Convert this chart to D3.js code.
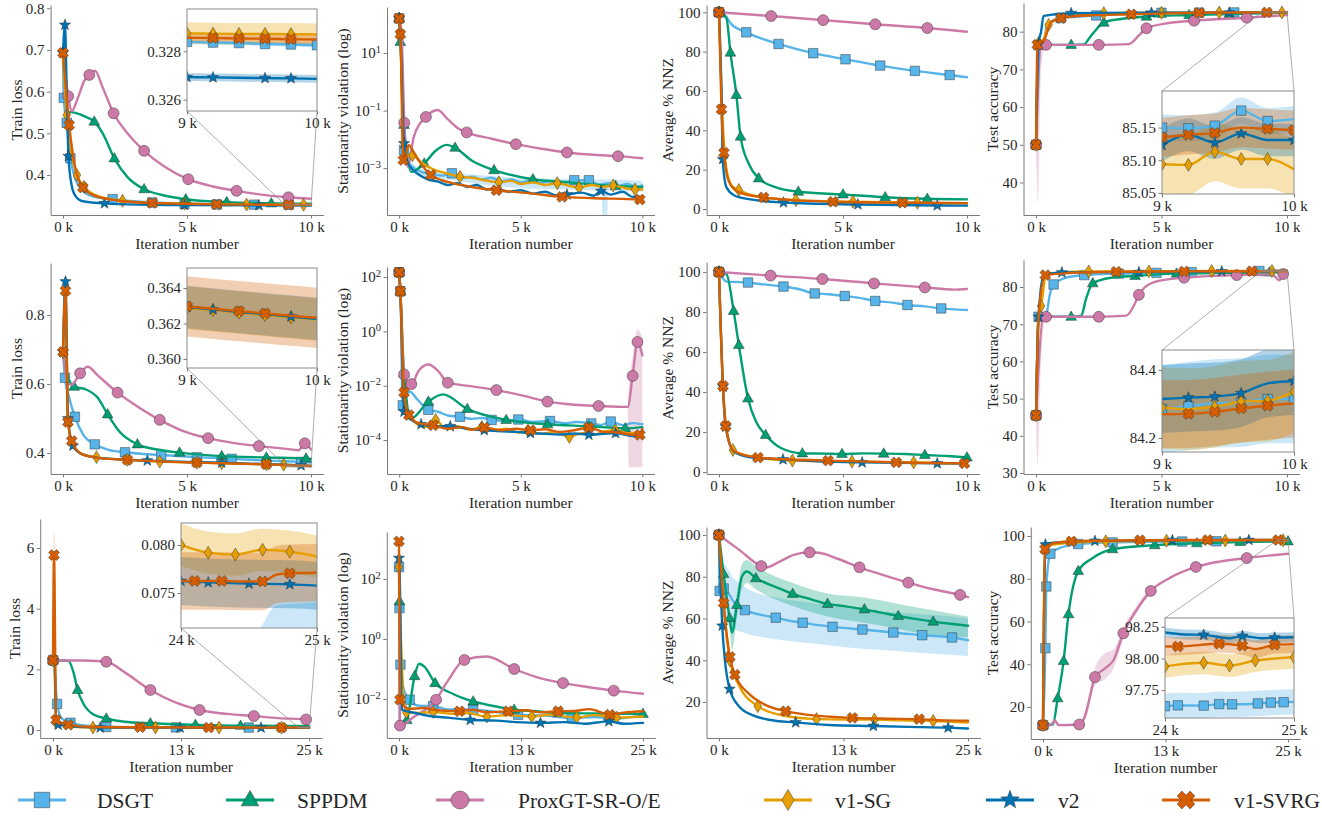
<!DOCTYPE html>
<html><head><meta charset="utf-8">
<script src="https://cdn.jsdelivr.net/npm/d3@7"></script>
<style>
body{margin:0;background:#fff}
svg{display:block}
</style>
</head><body>
<svg id="chart" width="1322" height="822"></svg>
<script>
// ---------------- DATA ----------------
const methods = ["DSGT","SPPDM","ProxGT-SR-O/E","v1-SG","v2","v1-SVRG"];
const colors  = ["#56B4E9","#009E73","#CC79A7","#E69F00","#0072B2","#D55E00"];
const shapes  = ["square","triangle","circle","diamond","star","x"];

const xTicks10 = [0,5,10],    xTickLabels10 = ["0 k","5 k","10 k"];
const xTicks25 = [0,12.5,25], xTickLabels25 = ["0 k","13 k","25 k"];
const yTitles = ["Train loss","Stationarity violation (log)","Average % NNZ","Test accuracy"];
const xTitle = "Iteration number";

const yTicksLossA = [0.4,0.5,0.6,0.7,0.8];
const yTicksStatA = [1e-3,1e-1,1e1];
const yTicksNnz   = [0,20,40,60,80,100];
const yTicksAccA  = [40,50,60,70,80];
const yTicksLossB = [0.4,0.6,0.8];
const yTicksStatB = [1e-4,1e-2,1,1e2];
const yTicksAccB  = [30,40,50,60,70,80];
const yTicksLossC = [0,2,4,6];
const yTicksStatC = [1e-2,1,1e2];
const yTicksNnzC  = [20,40,60,80,100];
const yTicksAccC  = [20,40,60,80,100];

// points: [iteration (k), value, marker?]
// order in each panel: DSGT, SPPDM, ProxGT-SR-O/E, v1-SG, v2, v1-SVRG
const lossA = [
 [[0,0.693],[0.03,0.585,1],[0.15,0.525,1],[0.3,0.44,1],[0.5,0.39],[0.8,0.362],[1.2,0.349],[2.0,0.342,1],[3.6,0.334,1],[4.9,0.331,1],[6.2,0.3295,1],[7.7,0.329,1],[9.1,0.3287,1],[10,0.3283]],
 [[0,0.693],[0.1,0.6],[0.2,0.552],[0.5,0.549],[0.9,0.54],[1.26,0.528,1],[1.6,0.5],[2.07,0.44,1],[2.6,0.395],[3.27,0.366,1],[4.0,0.352],[4.95,0.342,1],[6.6,0.335,1],[8.4,0.332,1],[10,0.331]],
 [[0,0.693],[0.21,0.589,1],[0.35,0.553],[0.6,0.585],[0.85,0.625],[1.06,0.64,1],[1.29,0.65],[1.6,0.61],[2.04,0.548,1],[2.6,0.5],[3.27,0.458,1],[4.1,0.42],[5.05,0.39,1],[6.0,0.373],[7.0,0.362,1],[8.0,0.353],[9.09,0.3465,1],[10,0.343]],
 [[0,0.693,1],[0.15,0.544,1],[0.35,0.45],[0.56,0.40,1],[0.84,0.372,1],[1.3,0.352],[2.4,0.338,1],[3.6,0.333],[4.9,0.331,1],[6.2,0.3295],[7.4,0.329,1],[9.7,0.3287,1],[10,0.3287]],
 [[0,0.693,1],[0.08,0.76,1],[0.15,0.6],[0.22,0.445,1],[0.35,0.375],[0.5,0.35],[0.8,0.337],[1.67,0.332,1],[3.0,0.329],[4.9,0.328,1],[7.9,0.3272,1],[10,0.3269]],
 [[0,0.693,1],[0.25,0.52,1],[0.45,0.43],[0.8,0.37,1],[1.3,0.35],[2.2,0.339],[3.6,0.333,1],[4.9,0.331],[6.2,0.3295,1],[7.6,0.329],[9.1,0.3285,1],[10,0.3284]]
];
const statA = [
 [[0,160,1],[0.05,45],[0.2,4.3e-3,1],[0.4,1.5e-3],[0.7,9e-4],[1.0,7e-4],[1.4,6e-4],[1.8,5.5e-4],[2.17,6.6e-4,1],[2.6,4.5e-4],[3.0,5e-4],[3.4,4e-4],[3.8,4.6e-4],[4.2,3.5e-4],[4.6,4e-4],[5.0,3.2e-4],[5.4,3.8e-4],[5.8,3e-4],[6.2,3.5e-4],[6.6,2.8e-4],[7.2,3.8e-4,1],[7.8,3.8e-4,1],[8.2,2.6e-4],[8.6,3e-4],[9.0,2.4e-4],[9.4,2.8e-4],[9.8,2.2e-4],[10,2.5e-4]],
 [[0,160,1],[0.05,24.5,1],[0.2,0.032,1],[0.5,7.4e-4],[1.03,1.45e-3,1],[1.5,4e-3],[1.95,6.4e-3],[2.3,5.1e-3,1],[3.0,1.8e-3],[3.9,8.5e-4,1],[5.5,4.1e-4,1],[7.0,3.2e-4],[8.9,2.4e-4,1],[10,2.2e-4]],
 [[0,160],[0.1,45],[0.21,0.038,1],[0.35,1.1e-3],[0.6,0.012],[1.1,0.06,1],[1.58,0.105],[2.0,0.05],[2.4,0.025],[2.78,0.0174,1],[3.8,0.0105],[4.8,6.8e-3,1],[5.8,4.8e-3],[6.9,3.5e-3,1],[8.0,2.9e-3],[9.0,2.6e-3,1],[10,2.2e-3]],
 [[0,160,1],[0.05,45,1],[0.2,2e-3],[0.35,2.8e-3],[0.55,2.8e-3,1],[0.9,1.6e-3],[1.4,9e-4],[2.0,6.5e-4],[2.5,5e-4,1],[3.0,4.6e-4],[3.5,3.8e-4],[4.1,3.2e-4,1],[4.6,3.6e-4],[5.0,2.8e-4],[5.5,3.2e-4],[6.0,2.6e-4],[6.5,3e-4,1],[7.0,2.4e-4],[7.4,2.1e-4,1],[7.9,2.6e-4],[8.4,2.2e-4],[8.8,2.5e-4,1],[9.3,2e-4],[9.7,1.8e-4,1],[10,1.8e-4]],
 [[0,160,1],[0.05,45],[0.2,7.2e-3,1],[0.35,1.6e-3],[0.5,1e-3],[0.8,6e-4],[1.2,4e-4],[1.6,3.4e-4],[2.0,2.6e-4],[2.4,3e-4],[2.8,2.2e-4],[3.2,2.6e-4],[3.6,1.8e-4],[4.0,2e-4],[4.5,1.5e-4],[5.0,1.7e-4],[5.5,1.3e-4],[6.0,1.5e-4],[6.5,1.1e-4],[6.9,1.2e-4,1],[7.5,1.4e-4],[8.0,1.1e-4],[8.3,1.6e-4,1],[8.7,1.2e-4],[9.2,1.5e-4],[9.6,1e-4],[10,1e-4]],
 [[0,160,1],[0.05,45,1],[0.17,1.9e-3,1],[0.28,3.5e-3],[0.4,6.3e-3],[0.6,3.5e-3],[0.9,1.4e-3],[1.3,5.8e-4,1],[2.0,3.3e-4],[3.0,2.2e-4],[4.0,1.7e-4,1],[5.5,1.3e-4],[6.7,1e-4,1],[8.0,9e-5],[9.9,8.1e-5,1],[10,8e-5]]
];
const nnzA = [
 [[0,100,1],[0.2,99],[0.5,94],[1.1,89.8,1],[2.4,83.9,1],[3.8,79.2,1],[5.1,76.1,1],[6.5,72.9,1],[7.9,70.2,1],[9.3,68.1,1],[10,67]],
 [[0,100,1],[0.3,97],[0.46,79.5,1],[0.7,58,1],[0.87,36.8,1],[1.2,23],[1.6,15.6,1],[2.3,11],[3.2,8.8,1],[5.0,7.4,1],[6.7,6.0,1],[8.4,5.2,1],[10,4.9]],
 [[0,100,1],[2.1,98.1,1],[4.2,96,1],[6.3,93.9,1],[8.4,92,1],[10,90.1]],
 [[0,100,1],[0.1,60],[0.25,25],[0.5,12],[0.8,9.6,1],[1.5,6.5],[3.1,4.5,1],[5.4,3.7,1],[8.0,3.2,1],[10,2.9]],
 [[0,100,1],[0.1,60],[0.15,25.3,1],[0.3,11],[0.6,7],[1.2,5],[2.6,3.3,1],[5.6,2.3,1],[8.8,1.8,1],[10,1.7]],
 [[0,100,1],[0.1,50.7,1],[0.2,28.6,1],[0.4,14],[0.8,8.5],[1.8,5.9,1],[3,4.5],[4.6,3.7,1],[7.4,3.2,1],[10,3.0]]
];
const accA = [
 [[0,50,1],[0.1,76.5,1],[0.3,77],[0.45,82],[0.98,83.6,1],[2.4,84.3,1],[5.0,85,1],[6.5,85.05,1],[7.9,85.1,1],[10,85.15]],
 [[0,50,1],[0.1,76.5],[1.4,76.5,1],[1.9,76.6],[2.2,79],[2.7,82.4,1],[3.3,83.3],[4.4,84.0,1],[6.1,84.4,1],[7.7,84.7,1],[10,85]],
 [[0,50,1],[0.2,76.3],[0.4,76.5,1],[2.5,76.5,1],[3.7,76.7],[4.1,79],[4.4,80.9,1],[5.2,82.2],[6.3,82.9,1],[8.4,83.7,1],[10,84.4]],
 [[0,50,1],[0.1,77,1],[0.3,78],[0.5,81.8,1],[1.2,84.2],[2.7,84.9,1],[5.0,85,1],[7.3,85.1,1],[9.8,85.1,1],[10,85.09]],
 [[0,50,1],[0.1,76.7,1],[0.2,80],[0.3,84.2],[1.4,84.9,1],[4.6,85,1],[7.7,85.05,1],[10,85.13]],
 [[0,50,1],[0.05,76.5,1],[0.3,77.5],[0.6,82.5],[1.0,83.6,1],[2.0,84.3],[3.8,84.6,1],[6.5,85,1],[9.2,85.12,1],[10,85.14]]
];
const lossB = [
 [[0,0.693],[0.08,0.618,1],[0.25,0.56],[0.48,0.505,1],[0.8,0.455],[1.28,0.425,1],[1.8,0.41],[2.5,0.402,1],[3.96,0.394,1],[5.4,0.388,1],[6.8,0.383,1],[8.2,0.378],[9.6,0.374,1],[10,0.372]],
 [[0,0.693],[0.2,0.62],[0.45,0.592,1],[0.9,0.585],[1.4,0.56],[1.8,0.512,1],[2.3,0.46],[3.0,0.425,1],[3.8,0.41],[4.7,0.401,1],[6.4,0.391,1],[8.2,0.387,1],[9.8,0.384,1],[10,0.383]],
 [[0,0.693],[0.2,0.6],[0.35,0.598],[0.69,0.631,1],[1.0,0.65],[1.4,0.625],[2.2,0.575,1],[3.0,0.535],[3.9,0.496,1],[4.8,0.465],[5.85,0.443,1],[6.8,0.43],[7.9,0.42,1],[9.0,0.412],[9.5,0.408],[9.75,0.428,1],[10,0.41]],
 [[0,0.693,1],[0.1,0.86],[0.2,0.5],[0.4,0.42],[0.7,0.4],[1.35,0.388,1],[2.6,0.38,1],[3.9,0.375,1],[5.4,0.372,1],[6.4,0.37,1],[8.2,0.367,1],[8.9,0.366,1],[10,0.3623]],
 [[0,0.693,1],[0.1,0.897,1],[0.2,0.5,1],[0.4,0.421,1],[0.8,0.395],[1.5,0.385],[3.4,0.378,1],[5,0.374],[6.4,0.372,1],[8,0.368],[9.6,0.364,1],[10,0.3623]],
 [[0,0.693,1],[0.1,0.87,1],[0.2,0.49,1],[0.35,0.435,1],[0.8,0.395],[1.5,0.385],[2.6,0.38,1],[5.4,0.372,1],[8.2,0.367,1],[10,0.3624]]
];
const statB = [
 [[0,150,1],[0.05,30,1],[0.15,1.9e-3,1],[0.3,5e-3],[0.45,6e-3],[0.7,3.5e-3],[1.0,1.8e-3],[1.2,1.3e-3,1],[1.6,1.1e-3],[2.0,8e-4],[2.5,7.2e-4,1],[3.0,6e-4],[3.4,6.5e-4],[3.8,5.5e-4,1],[4.3,5e-4],[4.9,5.7e-4,1],[5.5,4.6e-4],[6.2,5e-4,1],[6.8,4.2e-4],[7.3,4.6e-4],[7.9,4.1e-4,1],[8.3,3.6e-4],[8.7,4.8e-4,1],[9.2,3.5e-4],[9.6,4.2e-4],[10,3.8e-4]],
 [[0,150,1],[0.05,30,1],[0.2,0.028,1],[0.5,6.3e-4],[1.2,2.6e-3,1],[1.8,4.8e-3],[2.8,1.4e-3,1],[4.4,5.5e-4,1],[6.1,3.8e-4,1],[7.8,3.2e-4,1],[9.3,2.7e-4,1],[10,3.0e-4]],
 [[0,150,1],[0.05,30],[0.2,0.026,1],[0.5,0.0115,1],[0.8,0.035],[1.2,0.06],[1.6,0.035],[2.0,0.0129,1],[3.0,9.5e-3],[4.0,6.9e-3,1],[5.0,4.5e-3],[6.1,2.6e-3,1],[7.2,2e-3],[8.2,1.8e-3,1],[9.4,1.66e-3],[9.6,0.023,1],[9.8,0.41,1],[10,0.13]],
 [[0,150,1],[0.05,30,1],[0.2,1.5e-3],[0.45,7.2e-4],[0.8,3.5e-4],[1.1,3e-4],[1.5,5.5e-4,1],[1.9,2.8e-4],[2.4,3.2e-4],[2.9,2.4e-4],[3.4,3e-4,1],[3.9,2.3e-4],[4.4,2.6e-4],[4.9,1.9e-4],[5.3,2.2e-4,1],[5.8,1.7e-4],[6.4,2e-4],[7.0,1.3e-4,1],[7.5,1.8e-4],[8.0,1.6e-4],[8.5,2.1e-4],[8.9,2.3e-4,1],[9.4,1.8e-4],[10,2e-4]],
 [[0,150,1],[0.05,30],[0.2,1.1e-3,1],[0.5,5.5e-4],[0.9,3.8e-4,1],[1.5,3.2e-4],[2.1,3.2e-4,1],[2.8,2.6e-4],[3.5,2.3e-4,1],[4.2,2.1e-4],[4.8,2e-4],[5.4,1.8e-4,1],[6.0,1.7e-4],[6.6,1.6e-4],[7.2,1.75e-4],[7.8,1.55e-4,1],[8.4,1.7e-4],[8.9,1.8e-4,1],[9.4,1.5e-4],[10,1.3e-4]],
 [[0,150,1],[0.05,30,1],[0.2,5.6e-3,1],[0.4,8.3e-4,1],[0.8,4.2e-4],[1.4,3.5e-4,1],[2.0,2.6e-4],[2.6,3e-4],[3.0,2.4e-4],[3.5,2.9e-4,1],[4.2,2.3e-4],[4.8,2.6e-4],[5.4,2.3e-4,1],[6.0,2.5e-4],[6.6,2e-4],[7.2,2.3e-4],[7.8,2.9e-4,1],[8.4,2e-4],[9.0,1.9e-4],[9.5,1.6e-4],[9.9,1.55e-4,1],[10,2.6e-4]]
];
const nnzB = [
 [[0,100,1],[0.3,95.2],[0.7,95],[1.17,94.7,1],[1.8,93.8],[2.6,92.7,1],[3.2,91.5],[3.86,89.3,1],[4.4,88.9],[5.07,88,1],[5.6,87.2],[6.3,85.5,1],[7.0,84.7],[7.6,83.5,1],[8.3,82.8],[8.96,81.8,1],[9.5,81.3],[10,81]],
 [[0,100,1],[0.3,99],[0.59,80.5,1],[0.8,63.5,1],[1.17,36.8,1],[1.5,25],[1.88,18.5,1],[2.5,12],[3.36,9.3,1],[4.2,9.2],[4.96,9.0,1],[5.8,9.3],[6.64,9.2,1],[7.5,9],[8.3,8.5,1],[9.2,8],[10,7.3,1]],
 [[0,100,1],[2.08,98.2,1],[4.17,96.5,1],[6.25,94.3,1],[8.3,92.3,1],[9.5,91.2],[10,91.5]],
 [[0,100,1],[0.16,42.7],[0.3,22],[0.56,11,1],[1.2,8],[2.96,5.7,1],[5.36,5.2,1],[7.85,4.8,1],[10,4.3]],
 [[0,100,1],[0.16,42.7,1],[0.27,22.7,1],[0.6,10.2],[1.2,7.5],[2.58,6.3,1],[4,5.4],[5.77,4.8,1],[8.8,4.3,1],[10,4.2]],
 [[0,100,1],[0.16,43,1],[0.27,23,1],[0.6,10.5],[1.57,7.2,1],[4.4,5.7,1],[7.15,4.8,1],[9.9,4.3,1],[10,4.3]]
];
const accB = [
 [[0,45.5,1],[0.1,72,1],[0.4,72.5],[0.55,78],[0.7,80.7,1],[1.2,82.5],[1.92,83.2,1],[3.3,83.6,1],[4.8,83.8,1],[6.2,84.0,1],[8.9,84.3,1],[10,84.3]],
 [[0,45.5,1],[0.1,72],[1.4,72,1],[1.8,72.3],[2.0,77],[2.26,81,1],[3.0,82.5],[3.95,83,1],[5.6,83.6,1],[7.5,83.8],[9.3,83.9,1],[10,84]],
 [[0,45.5,1],[0.3,72],[0.4,72,1],[2.5,72,1],[3.6,72.3],[3.9,75],[4.1,77.9,1],[4.7,81.3],[5.9,82.5,1],[8.0,83.2,1],[9.4,83.4],[9.7,81.8],[9.85,83.5,1],[10,83.5]],
 [[0,45.5,1],[0.1,72],[0.2,74.9,1],[0.4,83.2],[0.8,83.8],[2.1,84.2,1],[4.5,84.2,1],[7.0,84.3,1],[9.4,84.3,1],[10,84.3]],
 [[0,45.5,1],[0.1,72,1],[0.3,83.2],[1.03,83.9,1],[2.5,84],[4.1,84,1],[7.4,84.2,1],[10,84.35]],
 [[0,45.5,1],[0.1,72],[0.37,83.2,1],[1.5,83.8],[3.2,84.1,1],[5.9,84.2,1],[8.6,84.25,1],[10,84.3]]
];
const lossC = [
 [[0,2.3,1],[0.1,2.2],[0.4,0.86,1],[0.8,0.4],[1.7,0.24,1],[3,0.15],[5.2,0.1,1],[12,0.085,1],[19.1,0.08,1],[25,0.07]],
 [[0,2.3,1],[1.5,2.28],[2.0,1.9],[2.4,1.32,1],[3.0,0.85],[4.0,0.5],[5.2,0.38,1],[7,0.27],[9.5,0.22,1],[13.9,0.17,1],[18.3,0.14,1],[25,0.13]],
 [[0,2.3,1],[3,2.29],[5.2,2.25,1],[7,1.9],[9.5,1.32,1],[12,0.9],[14.3,0.66,1],[17,0.53],[19.6,0.46,1],[22,0.39],[24.7,0.35,1],[25,0.34]],
 [[0,2.3,1],[0.1,2.7],[0.3,0.25,1],[1.5,0.12],[3.9,0.08,1],[10,0.08,1],[16.2,0.08,1],[22.3,0.08,1],[25,0.0788]],
 [[0,2.3,1],[0.1,3.2],[0.3,0.3],[0.5,0.17,1],[4.6,0.08,1],[12.4,0.077,1],[20.3,0.076,1],[25,0.0758]],
 [[0,2.3,1],[0.1,5.77,1],[0.3,0.33,1],[1.5,0.17,1],[4,0.1],[8.5,0.09,1],[15.2,0.08,1],[22.3,0.077,1],[25,0.0771]]
];
const statC = [
 [[0,250,1],[0.05,10.7,1],[0.15,0.14,1],[0.5,0.02],[1.1,9.5e-3,1],[2,6e-3],[3.5,5.8e-3,1],[5,4.5e-3],[7.6,4.4e-3,1],[10,3.7e-3],[12.2,3e-3,1],[15,2.8e-3],[17.7,2.3e-3,1],[20,2.5e-3],[22,2.2e-3],[25,2.9e-3]],
 [[0,250],[0.05,18,1],[0.1,1.2e-3],[0.8,2e-3,1],[1.6,0.058,1],[2.05,0.15],[2.6,0.12],[3.7,0.034,1],[5.5,0.015],[7.6,8.3e-3,1],[9.5,6e-3],[11.8,4.4e-3,1],[14,3.9e-3],[16.3,3.4e-3,1],[20,3.3e-3],[25,3.2e-3,1]],
 [[0,250],[0.1,1.3e-3,1],[1.5,2.5e-3],[3.8,9.5e-3,1],[5,0.04],[6.7,0.2,1],[9,0.26],[11.8,0.1,1],[14,0.055],[16.8,0.034,1],[19,0.026],[22,0.019,1],[25,0.015]],
 [[0,250,1],[0.1,10],[0.75,3.6e-3,1],[2,3.4e-3],[3.5,3.7e-3,1],[5.5,3.2e-3],[7,3.4e-3],[9,2.6e-3,1],[11,2.9e-3],[13.6,2.6e-3,1],[15.5,3e-3],[18.2,2.4e-3,1],[20,2.9e-3],[22.3,2.4e-3,1],[25,2.6e-3]],
 [[0,500,1],[0.1,50],[0.3,4.4e-3],[1.5,3.5e-3],[3.5,2.6e-3],[5,2.4e-3],[7.3,2e-3,1],[10,1.9e-3],[12,1.7e-3],[14.5,1.6e-3,1],[17,1.7e-3],[19,1.5e-3],[21.5,1.8e-3,1],[23,1.5e-3],[25,1.6e-3]],
 [[0,1800,1],[0.1,9.5e-3,1],[1,4.7e-3],[2.5,5e-3],[4,4.2e-3],[6.2,3.9e-3,1],[7.5,4.4e-3],[9,3.6e-3],[11.2,3.9e-3,1],[13,4.2e-3],[14.5,3.6e-3],[16.3,3.9e-3,1],[18,4e-3],[19.5,4.6e-3],[21.6,3e-3,1],[23,3.5e-3],[25,3.9e-3]]
];
const nnzC = [
 [[0,100,1],[0.07,73.2,1],[0.47,74.4,1],[1.5,68],[2.6,64,1],[4,62],[5.7,60.4,1],[7,59],[8.4,58,1],[10,56.8],[11.4,56,1],[13,55.3],[14.4,54.7,1],[16,54],[17.5,53.3,1],[19,52.6],[20.4,52,1],[22,51.5],[23.4,50.9,1],[25,49.6]],
 [[0,100,1],[0.47,81.3,1],[1.07,60.2,1],[1.3,53.3],[1.8,66.5,1],[2.3,80],[2.8,82.5],[3.7,79.3,1],[5.5,75.5],[7.4,71.8,1],[9,69.5],[10.9,67,1],[12.7,65.8],[14.6,64.4,1],[16.3,62.8],[18,61.2,1],[19.7,59.8],[21.5,58.5,1],[23.2,57.5],[25,56.5]],
 [[0,100,1],[2,93],[4.25,85.1,1],[4.75,84.5],[6,87],[7.5,90.5],[9.1,91.7,1],[10,91.5],[12,88.5],[14.1,84.5,1],[16.5,80.8],[19,77.2,1],[21.5,74],[24.2,71.3,1],[25,70.2]],
 [[0,100,1],[0.47,66],[1.1,40,1],[2,28],[3.9,18,1],[6,14],[9.8,11.8,1],[12.5,11.6],[15.6,11.6,1],[18,11.2],[21.5,10.9,1],[25,10.2]],
 [[0,100,1],[0.33,56.5,1],[0.6,40],[1.07,26.2,1],[2,18],[3.5,13.5],[5,11.5],[7.7,10.2,1],[11,9],[15.5,8.5,1],[19,8.1],[23,7.7,1],[25,7.3]],
 [[0,100,1],[0.47,67.4,1],[1.1,41.6,1],[1.6,33.1,1],[3,24],[4.5,19],[6.7,15.6,1],[9,13.8],[13.4,12.4,1],[17,12],[20.1,11.8,1],[22,11.3],[25,11]]
];
const accC = [
 [[0,11.5,1],[0.24,47.5,1],[0.34,76.4,1],[0.75,91.7,1],[1.5,94],[3.6,96.2,1],[7.1,97,1],[14.2,97.4,1],[17.7,97.5,1],[25,97.66]],
 [[0,11.5,1],[1,11.8],[1.5,24.1,1],[2.1,41.5,1],[2.6,63.4,1],[3.6,83.6,1],[5,89.5],[7.1,93.8,1],[11.4,95.7,1],[15.7,96.6,1],[20.1,97.2,1],[25,97.5,1]],
 [[0,11.5,1],[0.8,11.6],[1.2,13.7],[1.6,11.5],[3.7,11.8,1],[4.3,16],[4.8,25],[5.3,34,1],[6.3,38],[7.2,42],[8.2,54.5,1],[9.5,65],[11,74.3,1],[13,80.5],[15.6,85.5,1],[18,88],[20.8,89.7,1],[23,90.8],[25,91.7]],
 [[0,11.5,1],[0.2,93],[1,96],[6.4,97.5,1],[12.6,97.8,1],[18.6,97.9,1],[24.5,97.97,1],[25,98.01]],
 [[0,11.5,1],[0.1,60],[0.25,96,1],[1,96.8],[5.3,97.7,1],[13.2,98,1],[21,98.1,1],[25,98.17]],
 [[0,11.5,1],[0.2,93.8,1],[1,96.5],[2.9,97.5,1],[9.9,98,1],[16.8,98.1,1],[24,98.1,1],[25,98.11]]
];

// shaded spread in the main panels: [series index, [[k, low, high], ...]]
const bandsStatA = [[0, [[0.3,1.2e-3,2.2e-3],[1,5e-4,9e-4],[2,4e-4,7e-4],[3,3e-4,6e-4],[5,2e-4,4.5e-4],[7,1.8e-4,4.2e-4],[8.3,1.6e-4,4e-4],[8.4,1e-5,4e-4],[8.55,1e-5,4e-4],[8.6,1.6e-4,4e-4],[10,1.5e-4,3.5e-4]]]];
const bandsAccA  = [[2, [[0,48,52],[0.08,34,62],[0.2,70,77],[0.35,76,77]]]];
const bandsStatB = [[2, [[9.4,1.6e-3,1.7e-3],[9.45,1e-5,0.01],[9.6,1e-5,0.1],[9.8,1e-5,1.2],[10,1e-5,0.6]]]];
const bandsAccB  = [[2, [[0,45,46],[0.05,32,55],[0.2,60,72],[0.35,71.5,72.5]]]];
const bandsLossC = [[5, [[0,2.3,2.3],[0.1,5.0,6.6],[0.3,0.3,0.36]]]];
const bandsNnzC  = [
 [0, [[0,100,100],[0.07,70,78],[0.47,60,86],[1.5,55,79],[2.6,53,75],[5.7,50,70],[8.4,48.5,68],[11.4,47,66],[14.4,45.5,64],[17.5,44.5,63],[20.4,43.5,62],[23.4,42.5,61],[25,42,60]]],
 [1, [[0,100,100],[0.47,78,84],[1.07,55,64],[1.3,45,60],[1.8,60,72],[2.3,74,86],[2.8,77,88],[3.7,74,85],[7.4,66,77],[10.9,61,72],[14.6,58,70],[18,55,67],[21.5,52,64],[25,51,61]]]
];
const bandsAccC  = [[2, [[3.7,11.5,12],[4.3,14,18],[5.3,30,38],[6.3,33,45],[7.2,38,47],[8.2,52,57],[11,73,76]]]];

// zoomed insets
const insetLossA = [
 [[9,0.32839,1],[9.2,0.32836,1],[9.4,0.32834,1],[9.6,0.3283,1],[9.8,0.32828,1],[10,0.32825,1]], null, null,
 [[9,0.32874,1],[9.2,0.32873,1],[9.4,0.32872,1],[9.6,0.32872,1],[9.8,0.32871,1],[10,0.3287]],
 [[9,0.32693,1],[9.2,0.32692,1],[9.6,0.32689,1],[9.8,0.32688,1],[10,0.32686]],
 [[9,0.32856],[9.2,0.32855,1],[9.4,0.32853,1],[9.6,0.32852,1],[9.8,0.3285,1],[10,0.32849]]
];
const insetAccA = [
 [[9,85.15,1],[9.2,85.149,1],[9.4,85.153,1],[9.6,85.176,1],[9.8,85.16,1],[10,85.163]], null, null,
 [[9,85.094,1],[9.2,85.093,1],[9.4,85.113,1],[9.6,85.102,1],[9.8,85.102,1],[10,85.086]],
 [[9,85.123,1],[9.2,85.139],[9.4,85.127,1],[9.6,85.141,1],[9.8,85.131],[10,85.131,1]],
 [[9,85.135,1],[9.2,85.139,1],[9.4,85.142,1],[9.6,85.15],[9.8,85.148,1],[10,85.146,1]]
];
const insetLossB = [
 null, null, null,
 [[9,0.36288,1],[9.2,0.36275,1],[9.4,0.36262,1],[9.6,0.36248,1],[9.8,0.36235,1],[10,0.36222]],
 [[9,0.36293,1],[9.2,0.36279,1],[9.4,0.36265],[9.6,0.36252],[9.8,0.36239,1],[10,0.36225]],
 [[9,0.36297,1],[9.2,0.36283],[9.4,0.3627,1],[9.6,0.36257,1],[9.8,0.36244],[10,0.36232]]
];
const insetAccB = [
 [[9,84.285,1],[9.2,84.294,1],[9.4,84.302],[9.6,84.304,1],[9.8,84.315,1],[10,84.315,1]], null, null,
 [[9,84.289,1],[9.2,84.285],[9.4,84.292,1],[9.6,84.307,1],[9.8,84.31,1],[10,84.336,1]],
 [[9,84.315],[9.2,84.319,1],[9.4,84.322,1],[9.6,84.332,1],[9.8,84.361],[10,84.368,1]],
 [[9,84.27],[9.2,84.271,1],[9.4,84.277,1],[9.6,84.287,1],[9.8,84.295,1],[10,84.302]]
];
const insetLossC = [
 [[24,0.066],[24.55,0.0665],[24.7,0.0692],[25,0.0695]], null, null,
 [[24,0.08,1],[24.2,0.0792,1],[24.4,0.079,1],[24.6,0.0795,1],[24.8,0.0793,1],[25,0.0788]],
 [[24,0.07625,1],[24.2,0.0761,1],[24.5,0.07597,1],[24.8,0.0759,1],[25,0.07576]],
 [[24,0.07625],[24.1,0.07625,1],[24.3,0.07625,1],[24.45,0.0762],[24.6,0.0762,1],[24.7,0.0769],[24.8,0.07705,1],[25,0.0771]]
];
const insetAccC = [
 [[24,97.623,1],[24.1,97.63,1],[24.3,97.628,1],[24.42,97.64,1],[24.52,97.638,1],[24.72,97.645,1],[24.82,97.652,1],[24.92,97.655,1],[25,97.657]], null, null,
 [[24,97.937,1],[24.1,97.952],[24.3,97.966,1],[24.5,97.944,1],[24.7,97.984,1],[25,98.01,1]],
 [[24,98.205],[24.15,98.19],[24.3,98.187,1],[24.5,98.16],[24.6,98.178,1],[24.75,98.16],[24.85,98.165,1],[25,98.168]],
 [[24,98.095],[24.1,98.095,1],[24.42,98.117,1],[24.6,98.1,1],[24.7,98.074],[24.85,98.108,1],[25,98.114]]
];
// half-width of the shaded spread in each inset, per series
const insetSpreadLossA = [0.00008,0,0,0.00045,0.00016,0.0002];
const insetSpreadAccA  = [0.02,0,0,0.045,0.025,0.03];
const insetSpreadLossB = [0,0,0,0.0012,0.0012,0.0017];
const insetSpreadAccB  = [0.13,0,0,0.12,0.1,0.1];
const insetSpreadLossC = [0.0045,0,0,0.0022,0.0025,0.003];
const insetSpreadAccC  = [0.1,0,0,0.09,0.04,0.07];
const insetYTicksLossA = [0.326,0.328];
const insetYTicksAccA  = [85.05,85.10,85.15];
const insetYTicksLossB = [0.360,0.362,0.364];
const insetYTicksAccB  = [84.2,84.4];
const insetYTicksLossC = [0.075,0.080];
const insetYTicksAccC  = [97.75,98.00,98.25];
const insetXLabels10 = ["9 k","10 k"], insetXLabels25 = ["24 k","25 k"];

// ---------------- LAYOUT ----------------
const FONT = "'Liberation Serif','DejaVu Serif',serif";
const TXT = "#262626", AX = "#7a7a7a";
const panels = [
 {id:"11",data:lossA,bands:[],col:0,x0:50.6,x1:323.4,top:5,bot:215,xd:[-0.5,10.5],yd:[0.3041,0.8077],log:false,yt:yTicksLossA,fmt:".1f",xt:xTicks10,xtl:xTickLabels10,ylx:22,
  inset:{data:insetLossA,spread:insetSpreadLossA,x0:187,x1:317,top:9,bot:111,xd:[9,10],yd:[0.32553,0.32975],yt:insetYTicksLossA,fmt:".3f",xtl:insetXLabels10,corner:"bottom"}},
 {id:"12",data:statA,bands:bandsStatA,col:1,x0:387,x1:654.5,top:7,bot:215,xd:[-0.5,10.5],yd:[Math.pow(10,-4.63),Math.pow(10,2.6)],log:true,yt:yTicksStatA,xt:xTicks10,xtl:xTickLabels10,ylx:348},
 {id:"13",data:nnzA,bands:[],col:2,x0:706.6,x1:979.4,top:5,bot:215,xd:[-0.5,10.5],yd:[-3.05,103.7],log:false,yt:yTicksNnz,fmt:"d",xt:xTicks10,xtl:xTickLabels10,ylx:673},
 {id:"14",data:accA,bands:bandsAccA,col:3,x0:1023.5,x1:1299.5,top:3,bot:215,xd:[-0.5,10.5],yd:[31.38,87.6],log:false,yt:yTicksAccA,fmt:"d",xt:xTicks10,xtl:xTickLabels10,ylx:998,
  inset:{data:insetAccA,spread:insetSpreadAccA,x0:1162,x1:1294,top:91,bot:194,xd:[9,10],yd:[85.0484,85.206],yt:insetYTicksAccA,fmt:".2f",xtl:insetXLabels10,corner:"top"}},
 {id:"21",data:lossB,bands:[],col:0,x0:50.6,x1:323.4,top:263,bot:474,xd:[-0.5,10.5],yd:[0.3391,0.9507],log:false,yt:yTicksLossB,fmt:".1f",xt:xTicks10,xtl:xTickLabels10,ylx:22,
  inset:{data:insetLossB,spread:insetSpreadLossB,x0:187,x1:317,top:268,bot:368,xd:[9,10],yd:[0.35949,0.36513],yt:insetYTicksLossB,fmt:".3f",xtl:insetXLabels10,corner:"bottom"}},
 {id:"22",data:statB,bands:bandsStatB,col:1,x0:387,x1:654.5,top:267,bot:474,xd:[-0.5,10.5],yd:[Math.pow(10,-5.25),Math.pow(10,2.37)],log:true,yt:yTicksStatB,xt:xTicks10,xtl:xTickLabels10,ylx:348},
 {id:"23",data:nnzB,bands:[],col:2,x0:706.6,x1:979.4,top:262,bot:474,xd:[-0.5,10.5],yd:[-1,105],log:false,yt:yTicksNnz,fmt:"d",xt:xTicks10,xtl:xTickLabels10,ylx:673},
 {id:"24",data:accB,bands:bandsAccB,col:3,x0:1023.5,x1:1299.5,top:260,bot:474,xd:[-0.5,10.5],yd:[29.73,87.26],log:false,yt:yTicksAccB,fmt:"d",xt:xTicks10,xtl:xTickLabels10,ylx:998,
  inset:{data:insetAccB,spread:insetSpreadAccB,x0:1162,x1:1294,top:350,bot:452,xd:[9,10],yd:[84.159,84.459],yt:insetYTicksAccB,fmt:".1f",xtl:insetXLabels10,corner:"top"}},
 {id:"31",data:lossC,bands:bandsLossC,col:0,x0:40.2,x1:322,top:519,bot:738,xd:[-1.25,26.25],yd:[-0.264,6.957],log:false,yt:yTicksLossC,fmt:"d",xt:xTicks25,xtl:xTickLabels25,ylx:20,
  inset:{data:insetLossC,spread:insetSpreadLossC,x0:181,x1:317,top:523,bot:628,xd:[24,25],yd:[0.07135,0.08229],yt:insetYTicksLossC,fmt:".3f",xtl:insetXLabels25,corner:"bottom"}},
 {id:"32",data:statC,bands:[],col:1,x0:386.8,x1:655.2,top:532,bot:738,xd:[-1.25,26.25],yd:[Math.pow(10,-3.3),Math.pow(10,3.567)],log:true,yt:yTicksStatC,xt:xTicks25,xtl:xTickLabels25,ylx:348},
 {id:"33",data:nnzC,bands:bandsNnzC,col:2,x0:706.5,x1:980.5,top:527,bot:738,xd:[-1.25,26.25],yd:[2.75,103.83],log:false,yt:yTicksNnzC,fmt:"d",xt:xTicks25,xtl:xTickLabels25,ylx:673},
 {id:"34",data:accC,bands:bandsAccC,col:3,x0:1030.75,x1:1300.25,top:527,bot:739,xd:[-1.25,26.25],yd:[5.03,104.2],log:false,yt:yTicksAccC,fmt:"d",xt:xTicks25,xtl:xTickLabels25,ylx:998,
  inset:{data:insetAccC,spread:insetSpreadAccC,x0:1165,x1:1294,top:618,bot:718,xd:[24,25],yd:[97.53,98.32],yt:insetYTicksAccC,fmt:".2f",xtl:insetXLabels25,corner:"top"}}
];
const legendMarkerX = [42,250,460,788,1010,1186], legendTextX = [97,297,518,835,1058,1234], legendY = 800;

// ---------------- DRAWING ----------------
const svg = d3.select("#chart");
const defs = svg.append("defs");

function shapePath(shape, s){
  const h = s/2;
  switch(shape){
    case "square": { const a=h*0.86; return `M${-a},${-a}H${a}V${a}H${-a}Z`; }
    case "circle": { const r=h; return `M${r},0A${r},${r} 0 1,1 ${-r},0A${r},${r} 0 1,1 ${r},0Z`; }
    case "triangle": return `M0,${-h*1.05}L${h*0.98},${h*0.65}L${-h*0.98},${h*0.65}Z`;
    case "diamond": return `M0,${-h*1.18}L${h*0.7},0L0,${h*1.18}L${-h*0.7},0Z`;
    case "star": { let d=""; for(let i=0;i<10;i++){ const r=i%2? h*0.45 : h*1.08; const a=-Math.PI/2+i*Math.PI/5; d+=(i?"L":"M")+(r*Math.cos(a)).toFixed(2)+","+(r*Math.sin(a)).toFixed(2);} return d+"Z"; }
    case "x": { const w=h*0.38, e=h*1.02, c=Math.SQRT1_2;
      const pts=[[-w,-e],[w,-e],[w,-w],[e,-w],[e,w],[w,w],[w,e],[-w,e],[-w,w],[-e,w],[-e,-w],[-w,-w]];
      return "M"+pts.map(([a,b])=>((a-b)*c).toFixed(2)+","+((a+b)*c).toFixed(2)).join("L")+"Z"; }
  }
}
function drawMarker(g, i, cx, cy, s){
  g.append("path").attr("d", shapePath(shapes[i], s))
   .attr("transform", `translate(${cx},${cy})`)
   .attr("fill", colors[i]).attr("stroke", "#2b2b2b").attr("stroke-width", 0.6).attr("stroke-opacity", 0.75);
}
function styleAxis(a){
  a.attr("font-family", FONT).attr("font-size", 15).attr("color", TXT);
  a.select(".domain").attr("stroke", AX).attr("stroke-width", 1);
  a.selectAll(".tick line").attr("stroke", AX);
  a.selectAll(".tick text").attr("fill", TXT);
}
function superLabels(a){
  a.selectAll(".tick text").each(function(d){
    const t = d3.select(this); t.text(null);
    const e = Math.round(Math.log10(d));
    t.append("tspan").text("10");
    t.append("tspan").attr("dy","-0.55em").attr("font-size",10.5).text(e<0 ? "\u2212"+(-e) : String(e));
  });
}
function drawSeries(g, x, y, data, lw, ms){
  const line = d3.line().x(d=>x(d[0])).y(d=>y(d[1])).curve(d3.curveMonotoneX);
  data.forEach((pts,i)=>{
    if(!pts) return;
    g.append("path").attr("d", line(pts)).attr("fill","none").attr("stroke",colors[i])
     .attr("stroke-width", lw).attr("stroke-linejoin","round").attr("stroke-linecap","round");
    pts.filter(p=>p[2]===1).forEach(p=>drawMarker(g, i, x(p[0]), y(p[1]), ms));
  });
}

panels.forEach(p=>{
  const g = svg.append("g");
  const x = d3.scaleLinear().domain(p.xd).range([p.x0, p.x1]);
  const y = (p.log ? d3.scaleLog() : d3.scaleLinear()).domain(p.yd).range([p.bot, p.top]);
  const cid = "clip"+p.id;
  defs.append("clipPath").attr("id",cid).append("rect")
    .attr("x",p.x0).attr("y",p.top).attr("width",p.x1-p.x0).attr("height",p.bot-p.top);
  const plot = g.append("g").attr("clip-path",`url(#${cid})`);

  p.bands.forEach(([i, pts])=>{
    const area = d3.area().x(d=>x(d[0])).y0(d=>y(d[1])).y1(d=>y(d[2])).curve(d3.curveMonotoneX);
    plot.append("path").attr("d", area(pts)).attr("fill", colors[i]).attr("fill-opacity", 0.3);
  });
  drawSeries(plot, x, y, p.data, 2.4, 11);

  const ax = g.append("g").attr("transform",`translate(0,${p.bot})`)
    .call(d3.axisBottom(x).tickValues(p.xt).tickFormat((d,i)=>p.xtl[i]).tickSize(3.5).tickSizeOuter(0).tickPadding(3));
  styleAxis(ax);
  const ay = g.append("g").attr("transform",`translate(${p.x0},0)`)
    .call(d3.axisLeft(y).tickValues(p.yt).tickFormat(p.log ? null : d3.format(p.fmt)).tickSize(3.5).tickSizeOuter(0).tickPadding(2.5));
  styleAxis(ay);
  if(p.log) superLabels(ay);

  g.append("text").attr("x",(p.x0+p.x1)/2).attr("y",p.bot+34).attr("text-anchor","middle")
    .attr("font-family",FONT).attr("font-size",15.5).attr("fill",TXT).text(xTitle);
  g.append("text").attr("transform",`translate(${p.ylx},${(p.top+p.bot)/2}) rotate(-90)`).attr("text-anchor","middle")
    .attr("font-family",FONT).attr("font-size",15.5).attr("fill",TXT).text(yTitles[p.col]);

  const q = p.inset;
  if(q){
    const xi = d3.scaleLinear().domain(q.xd).range([q.x0, q.x1]);
    const yi = d3.scaleLinear().domain(q.yd).range([q.bot, q.top]);
    const rx0 = x(q.xd[0]), rx1 = x(q.xd[1]), ry0 = y(q.yd[0]), ry1 = y(q.yd[1]);
    const cg = g.append("g").attr("stroke","#8a8a8a").attr("stroke-width",0.7).attr("fill","none");
    cg.append("rect").attr("x",rx0).attr("y",Math.min(ry0,ry1)).attr("width",rx1-rx0).attr("height",Math.abs(ry0-ry1));
    if(q.corner==="bottom"){
      cg.append("line").attr("x1",q.x0).attr("y1",q.bot).attr("x2",rx0).attr("y2",ry0);
      cg.append("line").attr("x1",q.x1).attr("y1",q.bot).attr("x2",rx1).attr("y2",ry0);
    } else {
      cg.append("line").attr("x1",q.x0).attr("y1",q.top).attr("x2",rx0).attr("y2",ry1);
      cg.append("line").attr("x1",q.x1).attr("y1",q.top).attr("x2",rx1).attr("y2",ry1);
    }
    const ig = g.append("g");
    ig.append("rect").attr("x",q.x0).attr("y",q.top).attr("width",q.x1-q.x0).attr("height",q.bot-q.top).attr("fill","#fff");
    const icid = "iclip"+p.id;
    defs.append("clipPath").attr("id",icid).append("rect")
      .attr("x",q.x0).attr("y",q.top).attr("width",q.x1-q.x0).attr("height",q.bot-q.top);
    const ip = ig.append("g").attr("clip-path",`url(#${icid})`);
    q.data.forEach((pts,i)=>{
      if(!pts || !q.spread[i]) return;
      const hw = q.spread[i];
      const area = d3.area().x(d=>xi(d[0])).y0(d=>yi(d[1]-hw)).y1(d=>yi(d[1]+hw)).curve(d3.curveMonotoneX);
      ip.append("path").attr("d", area(pts)).attr("fill", colors[i]).attr("fill-opacity", 0.3);
    });
    drawSeries(ip, xi, yi, q.data, 2.4, 11);
    ig.append("rect").attr("x",q.x0).attr("y",q.top).attr("width",q.x1-q.x0).attr("height",q.bot-q.top)
      .attr("fill","none").attr("stroke","#8a8a8a").attr("stroke-width",1);
    const iax = ig.append("g").attr("transform",`translate(0,${q.bot})`)
      .call(d3.axisBottom(xi).tickValues(q.xd).tickFormat((d,i)=>q.xtl[i]).tickSize(3.5).tickSizeOuter(0).tickPadding(3));
    styleAxis(iax); iax.select(".domain").remove();
    const iay = ig.append("g").attr("transform",`translate(${q.x0},0)`)
      .call(d3.axisLeft(yi).tickValues(q.yt).tickFormat(d3.format(q.fmt)).tickSize(3.5).tickSizeOuter(0).tickPadding(2.5));
    styleAxis(iay); iay.select(".domain").remove();
  }
});

// legend
const lg = svg.append("g");
methods.forEach((m,i)=>{
  const cx = legendMarkerX[i];
  lg.append("line").attr("x1",cx-24).attr("x2",cx+24).attr("y1",legendY).attr("y2",legendY)
    .attr("stroke",colors[i]).attr("stroke-width",3.2);
  drawMarker(lg, i, cx, legendY, 18);
  lg.append("text").attr("x",legendTextX[i]).attr("y",legendY).attr("dy","0.35em")
    .attr("font-family",FONT).attr("font-size",21.5).attr("fill",TXT).text(m);
});
</script>
</body></html>
